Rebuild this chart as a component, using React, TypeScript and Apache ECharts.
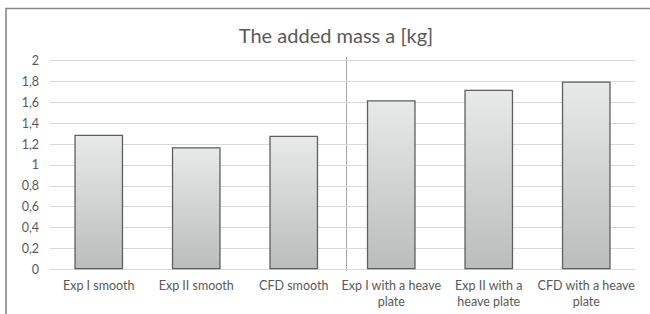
import React, { useEffect, useRef } from "react";
import * as echarts from "echarts";

const categories = [
  "Exp I smooth",
  "Exp II smooth",
  "CFD smooth",
  "Exp I with a heave\nplate",
  "Exp II with a\nheave plate",
  "CFD with a heave\nplate",
];
const values = [1.29, 1.17, 1.28, 1.62, 1.72, 1.8];
const titleText = "The added mass a [kg]";

export default function App() {
  const ref = useRef<HTMLDivElement>(null);
  useEffect(() => {
    if (!ref.current) return;
    const chart = echarts.init(ref.current, null, { renderer: "svg" });
    const font = "Lato, 'Open Sans', sans-serif";
    chart.setOption({
      animation: false,
      backgroundColor: "#ffffff",
      textStyle: { fontFamily: font },
      title: {
        text: titleText,
        left: 331,
        top: 20,
        textAlign: "center",
        textStyle: { fontFamily: font, fontSize: 20, fontWeight: "normal", color: "#595959" },
      },
      grid: { left: 50, right: 15, top: 60.6, bottom: 44.7, containLabel: false },
      xAxis: {
        type: "category",
        data: categories,
        axisLine: { show: true, lineStyle: { color: "#d9d9d9", width: 1 } },
        axisTick: { show: false },
        axisLabel: { color: "#595959", fontSize: 12.5, fontFamily: font, margin: 8, lineHeight: 16, interval: 0 },
      },
      yAxis: {
        type: "value",
        min: 0,
        max: 2,
        interval: 0.2,
        axisLine: { show: false },
        axisTick: { show: false },
        splitLine: { lineStyle: { color: "#d9d9d9", width: 1 } },
        axisLabel: {
          color: "#595959",
          fontSize: 12.5,
          fontFamily: font,
          margin: 11,
          formatter: (v: number) => String(Math.round(v * 10) / 10).replace(".", ","),
        },
      },
      series: [
        {
          type: "bar",
          data: values,
          barWidth: "50%",
          itemStyle: {
            color: new echarts.graphic.LinearGradient(0, 0, 0, 1, [
              { offset: 0, color: "#e8e9e9" },
              { offset: 1, color: "#bbbdbd" },
            ]),
            borderColor: "#5e5e5e",
            borderWidth: 1.3,
          },
        },
      ],
      graphic: [
        {
          type: "line",
          shape: { x1: 346.5, y1: 57, x2: 346.5, y2: 271 },
          style: { stroke: "#a6a6a6", lineWidth: 1 },
          silent: true,
        },
        {
          type: "polyline",
          shape: { points: [[6, 314], [6, 8.5], [650, 8.5]] },
          style: { stroke: "#878787", lineWidth: 1.6, fill: "none" },
          silent: true,
        },
      ],
    });
    return () => chart.dispose();
  }, []);
  return (
    <div style={{ position: "fixed", left: 0, top: 0, width: 650, height: 314, background: "#fff" }}>
      <div ref={ref} style={{ width: 650, height: 314 }} />
    </div>
  );
}
